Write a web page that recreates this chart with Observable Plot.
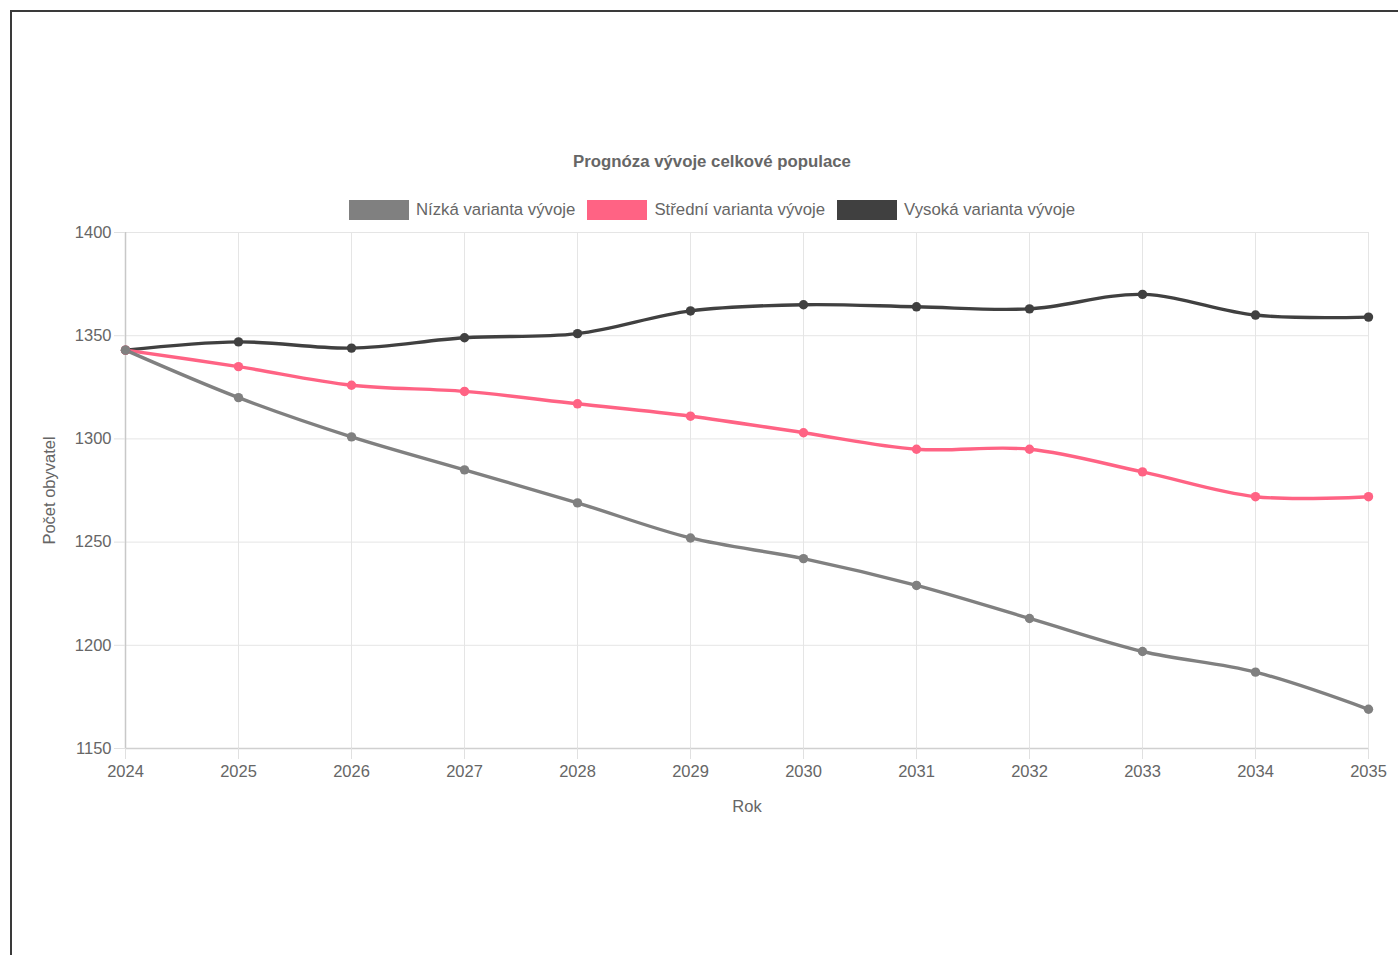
<!DOCTYPE html>
<html>
<head>
<meta charset="utf-8">
<script src="https://cdn.jsdelivr.net/npm/d3@7"></script>
<script src="https://cdn.jsdelivr.net/npm/@observablehq/plot@0.6"></script>
<style>
  html, body { margin: 0; padding: 0; background: #fff; overflow: hidden; width: 1398px; height: 955px; }
  body { position: relative; font-family: "Liberation Sans", Arial, sans-serif; color: #666; }
  #frame { position: absolute; left: 10px; top: 10px; width: 1500px; height: 1000px; border-left: 2px solid #3a3a3a; border-top: 2px solid #3a3a3a; box-sizing: border-box; }
  #title { position: absolute; left: 0; width: 1424px; top: 152px; text-align: center; font-size: 16.8px; font-weight: bold; color: #666; line-height: 20px; }
  #legend { position: absolute; left: 0; width: 1424px; top: 200px; display: flex; justify-content: center; align-items: center; font-size: 16.8px; color: #666; line-height: 20px; }
  .item { display: flex; align-items: center; margin: 0 6px; }
  .sw { width: 58px; height: 18px; margin-right: 7px; border: 1px solid; }
  #chart { position: absolute; left: 0; top: 220px; }
</style>
</head>
<body>
<div id="frame"></div>
<div id="title">Prognóza vývoje celkové populace</div>
<div id="legend"></div>
<div id="chart"></div>
<script>
const years = [2024, 2025, 2026, 2027, 2028, 2029, 2030, 2031, 2032, 2033, 2034, 2035];
const nizka = [1343, 1320, 1301, 1285, 1269, 1252, 1242, 1229, 1213, 1197, 1187, 1169];
const stredni = [1343, 1335, 1326, 1323, 1317, 1311, 1303, 1295, 1295, 1284, 1272, 1272];
const vysoka = [1343, 1347, 1344, 1349, 1351, 1362, 1365, 1364, 1363, 1370, 1360, 1359];
const seriesNames = ["Nízká varianta vývoje", "Střední varianta vývoje", "Vysoká varianta vývoje"];
const seriesColors = ["#808080", "#ff6384", "#404040"];
const yTicks = [1150, 1200, 1250, 1300, 1350, 1400];

const seriesValues = [nizka, stredni, vysoka];
const rows = [];
// draw order: last series first so the first one ends on top
for (let s = seriesValues.length - 1; s >= 0; s--) {
  years.forEach((yr, i) => rows.push({rok: yr, pocet: seriesValues[s][i], serie: seriesNames[s]}));
}

const legend = document.getElementById("legend");
seriesNames.forEach((n, i) => {
  const it = document.createElement("div");
  it.className = "item";
  const sw = document.createElement("div");
  sw.className = "sw";
  sw.style.background = seriesColors[i];
  sw.style.borderColor = seriesColors[i];
  const tx = document.createElement("span");
  tx.textContent = n;
  it.appendChild(sw); it.appendChild(tx);
  legend.appendChild(it);
});

const chart = Plot.plot({
  width: 1398,
  height: 608,
  marginLeft: 125,
  marginRight: 30,
  marginTop: 12,
  marginBottom: 80,
  style: {fontFamily: "'Liberation Sans', Arial, sans-serif", fontSize: "16.5px", color: "#666", background: "transparent"},
  x: {type: "linear", domain: [2024, 2035]},
  y: {domain: [1150, 1400]},
  color: {domain: seriesNames, range: seriesColors},
  marks: [
    Plot.gridX(years, {stroke: "#e5e5e5", strokeOpacity: 1}),
    Plot.gridY(yTicks, {stroke: "#e5e5e5", strokeOpacity: 1}),
    Plot.ruleX([years[0]], {stroke: "#c8c8c8", strokeWidth: 1.5}),
    Plot.ruleY([yTicks[0]], {stroke: "#d0d0d0", strokeWidth: 1.5}),
    Plot.axisX({ticks: years, tickFormat: d => String(d), tickSize: 11, tickPadding: 6, stroke: "#e0e0e0", fill: "#666", label: "Rok", labelAnchor: "center", labelArrow: "none", labelOffset: 63}),
    Plot.axisY({ticks: yTicks, tickFormat: d => String(d), tickSize: 11, tickPadding: 3, stroke: "#e0e0e0", fill: "#666", label: "Počet obyvatel", labelAnchor: "center", labelArrow: "none", labelOffset: 82}),
    Plot.line(rows, {x: "rok", y: "pocet", z: "serie", stroke: "serie", strokeWidth: 3.4, curve: "catmull-rom"}),
    Plot.dot(rows, {x: "rok", y: "pocet", fill: "serie", r: 4.7, stroke: "none"})
  ]
});
document.getElementById("chart").appendChild(chart);
</script>
</body>
</html>
